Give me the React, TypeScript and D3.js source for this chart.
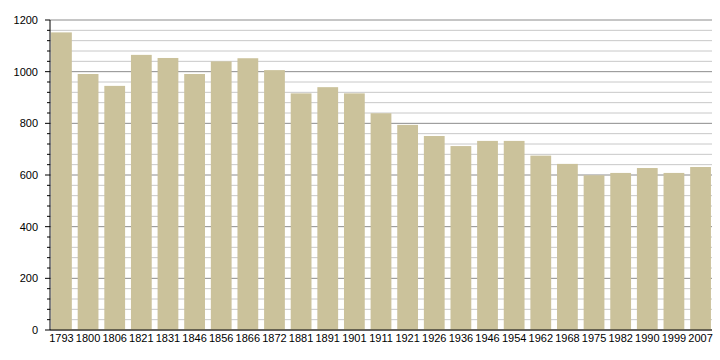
import React from "react";
import * as d3 from "d3";

const years = ["1793","1800","1806","1821","1831","1846","1856","1866","1872","1881","1891","1901","1911","1921","1926","1936","1946","1954","1962","1968","1975","1982","1990","1999","2007"];
const population = [1152,991,945,1065,1053,991,1040,1052,1006,916,940,916,839,794,751,712,732,732,675,643,599,608,627,608,631];
const majorTicks = [0,200,400,600,800,1000,1200];

const W = 720, H = 360;
const m = { left: 50, right: 8, top: 20, bottom: 30 };

export default function App() {
  const x = d3.scaleBand<string>().domain(years).range([m.left, W - m.right]).paddingInner(0.22).paddingOuter(0.04);
  const y = d3.scaleLinear().domain([0, 1200]).range([H - m.bottom, m.top]);
  const minor = d3.range(0, 1201, 40).filter(v => v % 200 !== 0);
  const font = "Liberation Sans, Arial, sans-serif";
  return (
    <svg width={W} height={H} style={{ position: "absolute", left: 0, top: 0, background: "#fff" }}>
      {minor.map(v => (
        <g key={"mi" + v}>
          <line x1={m.left} x2={W - m.right} y1={y(v)} y2={y(v)} stroke="#c8c8c8" strokeWidth={1} />
          <line x1={m.left - 3} x2={m.left} y1={y(v)} y2={y(v)} stroke="#000" strokeWidth={1} />
        </g>
      ))}
      {majorTicks.map(v => (
        <g key={"ma" + v}>
          <line x1={m.left} x2={W - m.right} y1={y(v)} y2={y(v)} stroke="#8c8c8c" strokeWidth={1} />
          <line x1={m.left - 5} x2={m.left} y1={y(v)} y2={y(v)} stroke="#000" strokeWidth={1} />
          <text x={m.left - 12} y={y(v)} dy="0.35em" textAnchor="end" fontSize={11} fontFamily={font} fill="#000">{v}</text>
        </g>
      ))}
      {years.map((yr, i) => (
        <rect key={yr} x={x(yr)} y={y(population[i])} width={x.bandwidth()} height={y(0) - y(population[i])} fill="#cbc29b" />
      ))}
      <line x1={m.left} x2={m.left} y1={m.top} y2={y(0)} stroke="#000" strokeWidth={1} />
      <line x1={m.left} x2={W - m.right} y1={y(0)} y2={y(0)} stroke="#000" strokeWidth={1} />
      {years.map(yr => (
        <text key={"l" + yr} x={(x(yr) as number) + x.bandwidth() / 2} y={y(0) + 12} textAnchor="middle" fontSize={11} fontFamily={font} fill="#000">{yr}</text>
      ))}
    </svg>
  );
}
